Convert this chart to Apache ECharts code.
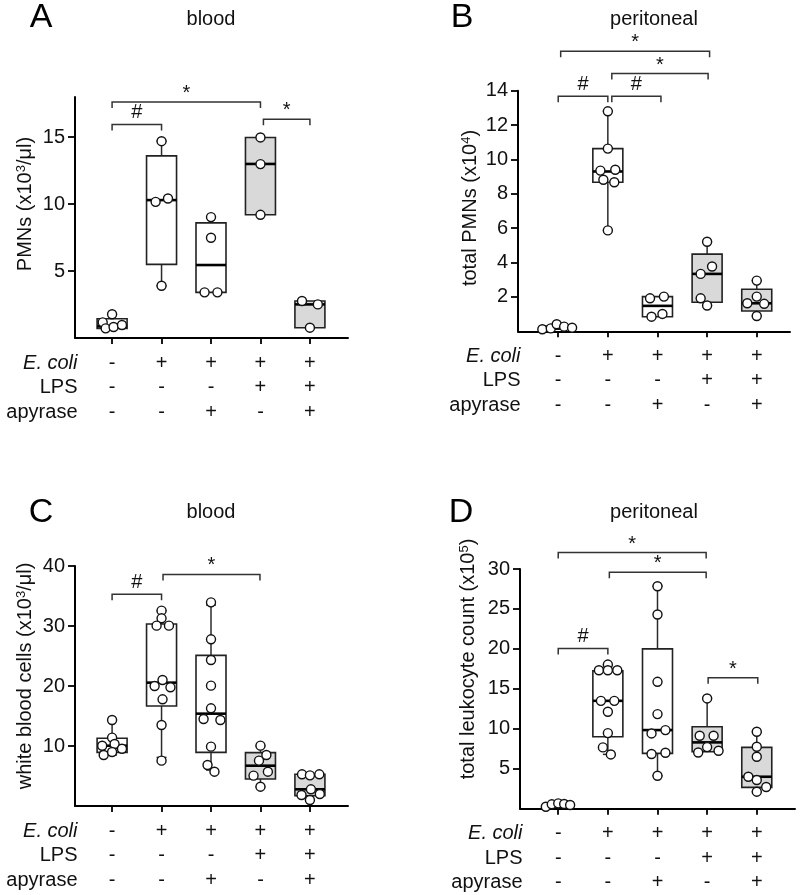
<!DOCTYPE html>
<html><head><meta charset="utf-8">
<script src="https://cdn.jsdelivr.net/npm/echarts@6/dist/echarts.min.js"></script>
<style>html,body{margin:0;padding:0;background:#fff}#c{width:800px;height:895px}</style>
</head><body><div id="c"></div>
<script>
// ================= DATA =================
const rowLabels = ['E. coli', 'LPS', 'apyrase'];
const ecoliSigns   = ['-', '+', '+', '+', '+'];
const lpsSigns     = ['-', '-', '-', '+', '+'];
const apyraseSigns = ['-', '-', '+', '-', '+'];

const panelLetters = ['A', 'B', 'C', 'D'];
const panelTitles = ['blood', 'peritoneal', 'blood', 'peritoneal'];
const yNamesMain = ['PMNs (x10', 'total PMNs (x10', 'white blood cells (x10', 'total leukocyte count (x10'];
const yNamesSup = ['3', '4', '3', '5'];
const yNamesTail = ['/μl)', ')', '/μl)', ')'];

const yTicksA = [5, 10, 15];
const yTicksB = [2, 4, 6, 8, 10, 12, 14];
const yTicksC = [10, 20, 30, 40];
const yTicksD = [5, 10, 15, 20, 25, 30];

// Panel A – PMNs blood (x10^3/µl)
const A_points = [[1.77, 1.17, 0.72, 0.82, 0.97], [14.7, 10.17, 10.42, 3.9], [9.03, 7.49, 3.41, 3.41], [14.98, 12.99, 9.2], [2.76, 2.51, 0.77]];
const A_jitter = [[0, -0.19, -0.13, 0.03, 0.2], [0, -0.12, 0.13, 0], [0, 0, -0.13, 0.13], [0, 0, 0], [-0.16, 0.16, 0]];
// [whisker low, Q1, median, Q3, whisker high]
const A_box = [[0.72, 0.72, 0.87, 1.44, 1.77], [3.9, 5.5, 10.3, 13.6, 14.7], [3.41, 3.41, 5.45, 8.6, 9.03], [9.2, 9.2, 13.0, 14.98, 14.98], [0.77, 0.77, 2.51, 2.76, 2.76]];
const A_brackets = [[0, 1, 15.95], [0, 3, 17.63], [3.06, 4, 16.34]];
const A_bracketLabels = ['#', '*', '*'];

// Panel B – total PMNs peritoneal (x10^4)
const B_points = [[0.12, 0.17, 0.41, 0.27, 0.21], [12.8, 10.63, 9.35, 9.4, 8.82, 8.67, 5.87], [1.92, 2.02, 0.85, 1.01], [5.21, 3.77, 3.34, 1.92, 1.5], [2.95, 2.02, 1.63, 1.6, 0.89]];
const B_jitter = [[-0.32, -0.15, -0.03, 0.12, 0.28], [0, 0, -0.15, 0.15, -0.09, 0.13, 0], [-0.15, 0.13, -0.12, 0.1], [0, 0.1, -0.13, -0.13, 0], [0, 0, -0.19, 0.15, 0]];
const B_box = [[0.12, 0.15, 0.2, 0.3, 0.41], [5.87, 8.67, 9.3, 10.63, 12.8], [0.85, 0.85, 1.48, 2.02, 2.02], [1.5, 1.69, 3.34, 4.49, 5.21], [0.89, 1.18, 1.63, 2.45, 2.95]];
const B_brackets = [[0, 1, 13.68], [1.08, 2.07, 13.68], [1.08, 3.02, 15.0], [0.05, 3.05, 16.3]];
const B_bracketLabels = ['#', '#', '*', '*'];

// Panel C – white blood cells blood (x10^3/µl)
const C_points = [[14.33, 11.4, 10.05, 10.33, 9.55, 8.5, 9.0], [32.56, 31.28, 30.06, 30.06, 21.0, 20.0, 19.78, 17.78, 13.5, 7.56], [33.94, 27.78, 24.33, 20.06, 16.28, 14.5, 14.33, 9.89, 6.83, 5.72], [10.06, 8.5, 7.56, 5.72, 5.06, 3.22], [5.28, 5.11, 5.28, 2.78, 1.83, 2.0, 1.0]];
const C_jitter = [[0, 0, -0.2, 0.05, 0.2, -0.17, 0], [0, 0, -0.1, 0.15, 0.02, -0.14, 0.18, 0.02, 0, 0], [0, 0, 0, 0, 0, -0.15, 0.19, 0, -0.07, 0.07], [0, 0.12, -0.03, 0.15, -0.14, 0], [-0.16, 0, 0.19, 0.02, -0.17, 0.2, 0]];
const C_box = [[8.5, 8.94, 10.05, 11.28, 14.33], [8.1, 16.67, 20.56, 30.33, 32.56], [6.0, 8.94, 15.39, 25.1, 33.5], [3.22, 4.5, 6.72, 8.89, 10.06], [1.0, 1.72, 2.78, 5.28, 5.28]];
const C_brackets = [[0, 1, 35.3], [1.03, 2.99, 38.6]];
const C_bracketLabels = ['#', '*'];

// Panel D – total leukocyte count peritoneal (x10^5)
const D_points = [[0.25, 0.55, 0.67, 0.59, 0.46], [18.04, 17.33, 17.33, 17.33, 13.5, 13.5, 12.13, 9.46, 7.67, 6.79], [27.84, 24.3, 15.88, 11.84, 9.42, 9.84, 6.84, 7.0, 4.13], [13.8, 9.13, 9.13, 7.71, 7.04, 7.25], [9.63, 7.75, 6.5, 4.0, 3.59, 2.71, 2.13]];
const D_jitter = [[-0.25, -0.13, 0, 0.12, 0.24], [0, -0.18, 0, 0.19, -0.14, 0.13, 0, 0, -0.1, 0.06], [0, 0, 0, 0, -0.12, 0.16, -0.12, 0.16, 0], [0, -0.15, 0.13, 0, -0.18, 0.23], [0, 0, 0, -0.17, 0, 0.19, 0]];
const D_box = [[0.25, 0.3, 0.5, 0.6, 0.67], [6.8, 9.0, 13.5, 17.25, 18.0], [4.13, 6.92, 9.84, 20.0, 27.84], [7.13, 7.13, 8.3, 10.25, 13.8], [2.13, 2.67, 4.0, 7.67, 9.63]];
const D_brackets = [[0, 1, 20.05], [1.03, 2.98, 29.6], [0, 2.98, 32.05], [3.02, 4.02, 16.4]];
const D_bracketLabels = ['#', '*', '*', '*'];

// ================= STYLE / LAYOUT =================
const FONT = '"Liberation Sans", Arial, Helvetica, sans-serif';
const boxFills = ['#ffffff', '#ffffff', '#ffffff', '#d9d9d9', '#d9d9d9'];
const catValues = [0, 1, 2, 3, 4];

const panels = [
  { grid: { left: 75, top: 97, width: 273, height: 241 }, xMin: -0.75, xMax: 4.77, yMax: 18, yTicks: yTicksA,
    box: A_box, pts: A_points, jit: A_jitter, br: A_brackets, brL: A_bracketLabels,
    letter: [41, 18], title: [211, 19], yName: [25, 204] },
  { grid: { left: 518, top: 90.7, width: 272, height: 240.6 }, xMin: -0.81, xMax: 4.67, yMax: 14, yTicks: yTicksB,
    box: B_box, pts: B_points, jit: B_jitter, br: B_brackets, brL: B_bracketLabels,
    letter: [462, 18], title: [654, 19], yName: [470, 208] },
  { grid: { left: 75, top: 566, width: 273, height: 240 }, xMin: -0.75, xMax: 4.77, yMax: 40, yTicks: yTicksC,
    box: C_box, pts: C_points, jit: C_jitter, br: C_brackets, brL: C_bracketLabels,
    letter: [41, 513], title: [211, 512], yName: [25, 676] },
  { grid: { left: 520, top: 569, width: 275, height: 239.7 }, xMin: -0.77, xMax: 4.77, yMax: 30, yTicks: yTicksD,
    box: D_box, pts: D_points, jit: D_jitter, br: D_brackets, brL: D_bracketLabels,
    letter: [461, 513], title: [654, 512], yName: [468, 659] }
];

function boxRender(params, api) {
  const x = api.value(0);
  const lo = api.coord([x, api.value(1)]);
  const q1 = api.coord([x, api.value(2)]);
  const md = api.coord([x, api.value(3)]);
  const q3 = api.coord([x, api.value(4)]);
  const hi = api.coord([x, api.value(5)]);
  const cx = q1[0], bw = 30, cw = 10;
  const ls = { stroke: '#2b2b2b', lineWidth: 1.5 };
  const ch = [];
  if (hi[1] < q3[1] - 0.5) {
    ch.push({ type: 'line', shape: { x1: cx, y1: q3[1], x2: cx, y2: hi[1] }, style: ls });
    ch.push({ type: 'line', shape: { x1: cx - cw / 2, y1: hi[1], x2: cx + cw / 2, y2: hi[1] }, style: ls });
  }
  if (lo[1] > q1[1] + 0.5) {
    ch.push({ type: 'line', shape: { x1: cx, y1: q1[1], x2: cx, y2: lo[1] }, style: ls });
    ch.push({ type: 'line', shape: { x1: cx - cw / 2, y1: lo[1], x2: cx + cw / 2, y2: lo[1] }, style: ls });
  }
  ch.push({ type: 'rect', shape: { x: cx - bw / 2, y: q3[1], width: bw, height: q1[1] - q3[1] },
            style: { fill: boxFills[params.dataIndex], stroke: '#222', lineWidth: 1.6 } });
  ch.push({ type: 'line', shape: { x1: cx - bw / 2, y1: md[1], x2: cx + bw / 2, y2: md[1] },
            style: { stroke: '#000', lineWidth: 2.6 } });
  return { type: 'group', children: ch };
}

function makeBracketRender(labels) {
  return function (params, api) {
    const y = api.value(2);
    const a = api.coord([api.value(0), y]);
    const b = api.coord([api.value(1), y]);
    const d = 6;
    const lab = labels[params.dataIndex];
    return { type: 'group', children: [
      { type: 'polyline', shape: { points: [[a[0], a[1] + d], [a[0], a[1]], [b[0], b[1]], [b[0], b[1] + d]] },
        style: { stroke: '#333', lineWidth: 1.5, fill: null } },
      { type: 'text', style: { text: lab, x: (a[0] + b[0]) / 2, y: a[1] - (lab === '*' ? 8.5 : 12),
        align: 'center', verticalAlign: 'middle', font: '20px ' + FONT, fill: '#111' } }
    ] };
  };
}

const grid = [], xAxis = [], yAxis = [], series = [], graphic = [];
panels.forEach((p, k) => {
  grid.push(p.grid);
  xAxis.push({
    gridIndex: k, type: 'value', min: p.xMin, max: p.xMax,
    splitLine: { show: false },
    axisLine: { show: true, onZero: false, lineStyle: { color: '#000', width: 2 } },
    axisTick: { show: true, customValues: catValues, length: 6, lineStyle: { color: '#000', width: 1.8 } },
    axisLabel: { show: true, customValues: catValues, margin: 12.75, lineHeight: 24.5,
      fontSize: 20, fontFamily: FONT, color: '#111', align: 'center', verticalAlign: 'top',
      formatter: v => { const i = Math.round(v); return ecoliSigns[i] + '\n' + lpsSigns[i] + '\n' + apyraseSigns[i]; } }
  });
  yAxis.push({
    gridIndex: k, type: 'value', min: 0, max: p.yMax,
    splitLine: { show: false },
    axisLine: { show: true, onZero: false, lineStyle: { color: '#000', width: 2 } },
    axisTick: { show: true, customValues: p.yTicks, length: 7, lineStyle: { color: '#000', width: 1.8 } },
    axisLabel: { show: true, customValues: p.yTicks, margin: 10, fontSize: 20, fontFamily: FONT, color: '#111' }
  });
  series.push({
    type: 'custom', xAxisIndex: k, yAxisIndex: k, coordinateSystem: 'cartesian2d', clip: false, z: 2,
    renderItem: boxRender, encode: { x: 0, y: [1, 2, 3, 4, 5] },
    data: p.box.map((b, i) => [i].concat(b))
  });
  series.push({
    type: 'scatter', xAxisIndex: k, yAxisIndex: k, z: 5, symbol: 'circle', symbolSize: 9, clip: false,
    itemStyle: { color: '#fff', borderColor: '#111', borderWidth: 1.4, opacity: 1 },
    data: p.pts.flatMap((arr, i) => arr.map((v, j) => [i + p.jit[i][j], v]))
  });
  series.push({
    type: 'custom', xAxisIndex: k, yAxisIndex: k, coordinateSystem: 'cartesian2d', clip: false, z: 3,
    renderItem: makeBracketRender(p.brL), encode: { x: [0, 1], y: 2 },
    data: p.br
  });
  // text annotations
  graphic.push({ type: 'text', x: p.letter[0], y: p.letter[1],
    style: { text: panelLetters[k], font: '34px ' + FONT, fill: '#000', align: 'center', verticalAlign: 'middle' } });
  graphic.push({ type: 'text', x: p.title[0], y: p.title[1],
    style: { text: panelTitles[k], font: '20px ' + FONT, fill: '#111', align: 'center', verticalAlign: 'middle' } });
  graphic.push({ type: 'text', x: p.yName[0], y: p.yName[1], rotation: Math.PI / 2,
    style: { text: yNamesMain[k] + '{sup|' + yNamesSup[k] + '}' + yNamesTail[k],
      font: '20px ' + FONT, fill: '#111', align: 'center', verticalAlign: 'middle',
      rich: { sup: { font: '13px ' + FONT, fill: '#111', verticalAlign: 'top' } } } });
  const axisY = p.grid.top + p.grid.height;
  rowLabels.forEach((t, r) => {
    graphic.push({ type: 'text', x: p.grid.left + 2.5, y: axisY + 25 + 24.5 * r,
      style: { text: t, font: (r === 0 ? 'italic ' : '') + '20px ' + FONT, fill: '#111', align: 'right', verticalAlign: 'middle' } });
  });
});

const chart = echarts.init(document.getElementById('c'), null, { renderer: 'canvas' });
chart.setOption({ animation: false, backgroundColor: '#fff', grid, xAxis, yAxis, series, graphic });
</script></body></html>
